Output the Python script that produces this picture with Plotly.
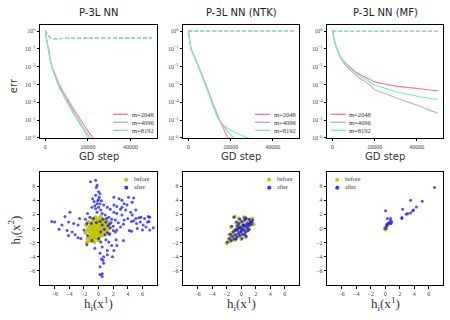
import plotly.graph_objects as go

panel_titles = ["P-3L NN", "P-3L NN (NTK)", "P-3L NN (MF)"]
m_labels = ["m=2048", "m=4096", "m=8192"]
m_colors = ["#ff72b6", "#b8b8b8", "#72f2b8"]

# --- top row: training error (solid) and test error (dashed) vs GD step
std_steps = [0, 500, 1000, 1500, 2500, 3500, 5000, 6500, 9000, 11500, 14000, 17000, 20000, 23000, 26000]
std_err_2048 = [1.1, 0.4, 0.18, 0.1, 0.02, 8e-3, 2.8e-3, 1e-3, 2.9e-4, 9e-5, 2.9e-5, 8.5e-6, 2.5e-6, 8e-7, 2.5e-7]
std_err_4096 = [1.1, 0.38, 0.16, 0.09, 0.018, 7e-3, 2.3e-3, 8e-4, 2.2e-4, 6.5e-5, 2e-5, 5.5e-6, 1.5e-6, 4.5e-7, 1.3e-7]
std_err_8192 = [1.1, 0.36, 0.15, 0.08, 0.016, 6e-3, 2e-3, 6.8e-4, 1.8e-4, 5.2e-5, 1.6e-5, 4.2e-6, 1.1e-6, 3e-7, 9e-8]
std_test_steps = [0, 1000, 2000, 3000, 4500, 6000, 8000, 12000, 20000, 30000, 40000, 50000]
std_test_2048 = [1.1, 0.66, 0.46, 0.39, 0.365, 0.37, 0.385, 0.395, 0.40, 0.40, 0.40, 0.40]
std_test_4096 = [1.1, 0.64, 0.45, 0.38, 0.36, 0.365, 0.38, 0.39, 0.395, 0.40, 0.40, 0.40]
std_test_8192 = [1.1, 0.63, 0.44, 0.375, 0.355, 0.36, 0.38, 0.39, 0.395, 0.40, 0.40, 0.40]

ntk_steps_2048 = [0, 1250, 2500, 4800, 8200, 11300, 14700, 18750, 22000]
ntk_err_2048 = [1.05, 0.1, 0.045, 0.01, 1e-3, 1e-4, 1e-5, 1e-6, 1.6e-7]
ntk_steps_4096 = [0, 1250, 2500, 4800, 8200, 11400, 14800, 18000, 21400, 24000]
ntk_err_4096 = [1.05, 0.1, 0.045, 0.0105, 1.05e-3, 1.05e-4, 1.05e-5, 2.8e-6, 1e-6, 5e-7]
ntk_steps_8192 = [0, 1250, 2500, 4800, 8200, 11000, 13600, 16000, 19000, 23000, 28400, 32000]
ntk_err_8192 = [1.05, 0.1, 0.042, 0.009, 8e-4, 1e-4, 1.6e-5, 6e-6, 3.2e-6, 1.8e-6, 1e-6, 7.5e-7]
ntk_test_steps = [0, 1000, 5000, 20000, 50000]
ntk_test = [1.1, 1.0, 1.0, 1.0, 1.0]

mf_steps = [0, 1000, 2200, 4000, 6000, 8200, 11000, 14000, 17000, 20000, 25000, 30000, 35000, 40000, 45000, 50000]
mf_err_2048 = [1.05, 0.28, 0.1, 0.035, 0.0166, 0.01, 5e-3, 3.2e-3, 2.1e-3, 1.4e-3, 1.05e-3, 8.1e-4, 6.9e-4, 6.0e-4, 5.1e-4, 4.5e-4]
mf_err_4096 = [1.05, 0.26, 0.09, 0.029, 0.0125, 6.8e-3, 3.3e-3, 1.85e-3, 1.1e-3, 5.2e-4, 3.1e-4, 1.8e-4, 1.1e-4, 7e-5, 4e-5, 2.4e-5]
mf_err_8192 = [1.05, 0.27, 0.095, 0.032, 0.015, 8.5e-3, 4.3e-3, 2.6e-3, 1.6e-3, 9.3e-4, 6.2e-4, 3.9e-4, 2.9e-4, 2.2e-4, 1.75e-4, 1.45e-4]
mf_test_steps = [0, 1000, 5000, 20000, 50000]
mf_test = [1.1, 0.97, 0.97, 0.97, 0.97]

err_ticks = [1, 1e-1, 1e-2, 1e-3, 1e-4, 1e-5, 1e-6]
err_ticktext = ["10<sup>0</sup>", "10<sup>−1</sup>", "10<sup>−2</sup>", "10<sup>−3</sup>",
                "10<sup>−4</sup>", "10<sup>−5</sup>", "10<sup>−6</sup>"]
step_ticks = [0, 20000, 40000]

# --- bottom row: h_i(x^1) vs h_i(x^2) before / after training
std_before = [(-1.6, -2.0), (-1.4, -1.7), (-1.2, -1.5), (-1.5, -1.4), (-1.0, -1.8), (-0.8, -1.4), (-1.1, -1.1),
              (-0.6, -1.2), (-0.3, -1.4), (0.1, -1.2), (0.4, -1.0), (-0.9, -0.8), (-0.5, -0.7), (-0.2, -0.9),
              (0.2, -0.7), (0.6, -0.6), (-1.3, -0.5), (-0.7, -0.4), (-0.4, -0.3), (0.0, -0.4), (0.4, -0.3),
              (0.8, -0.2), (1.1, -0.4), (-1.5, -0.1), (-1.0, -0.1), (-0.6, 0.0), (-0.2, 0.1), (0.2, 0.0),
              (0.6, 0.1), (1.0, 0.1), (1.4, 0.0), (-1.2, 0.3), (-0.8, 0.4), (-0.4, 0.4), (0.0, 0.4), (0.4, 0.5),
              (0.8, 0.4), (1.2, 0.5), (-1.0, 0.8), (-0.5, 0.8), (-0.1, 0.8), (0.3, 0.9), (0.7, 0.8), (1.0, 0.9),
              (-0.7, 1.1), (-0.3, 1.2), (0.1, 1.2), (0.5, 1.3), (0.9, 1.2), (-0.4, 1.6), (0.2, 1.5), (-1.7, 0.5),
              (-1.8, -0.6), (1.5, -0.7), (0.0, -1.7), (-0.6, -1.9), (-0.3, 0.0), (0.1, -0.2), (-0.5, -0.2),
              (0.3, 0.3), (-0.1, 0.5), (-0.8, 0.1), (0.5, -0.1), (-0.3, -0.6), (0.0, -0.9), (-0.7, -0.8),
              (-1.1, -1.3), (0.7, -0.9), (1.3, 0.9), (-1.4, 0.9), (0.3, 1.7), (-0.9, 1.4)]
std_after = [(-1.1, 6.6), (-0.4, 6.8), (-0.2, 6.1), (-0.3, 5.8), (0.0, 5.2), (0.2, 4.9), (-0.4, 4.7), (-0.8, 4.2),
             (0.0, 4.1), (-0.6, 3.8), (-0.2, 3.5), (0.2, 3.5), (0.7, 3.3), (-0.9, 3.0), (-0.4, 2.8), (1.2, 3.0),
             (1.6, 2.7), (0.3, 2.6), (-0.2, 2.3), (0.5, 2.1), (0.9, 1.9), (1.4, 1.6), (2.1, 2.3), (2.5, 2.1),
             (-1.5, 2.1), (-1.2, 1.6), (-0.7, 1.4), (0.1, 4.4), (-0.1, 3.9), (0.4, 3.9), (-0.5, 3.2), (0.0, 3.0),
             (2.1, 4.4), (2.8, 4.2), (3.2, 4.0), (3.5, 3.5), (4.1, 4.4), (4.8, 4.3), (4.6, 3.7), (3.9, 3.3),
             (3.2, 3.0), (3.7, 2.6), (4.4, 2.3), (5.1, 2.6), (2.1, 3.3), (2.5, 3.1), (3.0, 2.7), (4.6, 1.9),
             (3.2, 1.9), (5.1, 1.4), (5.8, 1.6), (6.3, 1.4), (2.3, 1.2), (1.8, 1.3), (2.7, 0.8), (6.8, 1.7),
             (7.0, 1.6), (4.8, 1.1), (-6.4, 1.0), (-6.0, 0.9), (-4.6, 1.7), (-3.9, 2.3), (-4.1, 0.9), (-3.4, 0.7),
             (-2.8, 0.5), (-5.0, 0.5), (-4.3, -0.3), (-3.6, -0.5), (-3.2, -0.9), (-2.4, -1.4), (-1.5, -1.0),
             (-2.0, -0.2), (-1.6, 0.7), (-2.6, 1.4), (-4.1, -1.0), (-2.8, -1.3), (-1.0, 0.7), (-1.8, 1.3),
             (-5.4, -0.1), (3.5, 1.2), (4.0, 1.4), (4.5, 1.0), (5.2, 0.7), (5.7, 0.9), (6.1, 0.5), (6.7, 0.9),
             (6.5, 0.2), (7.0, -0.2), (6.0, -0.2), (5.3, 0.0), (4.5, -0.4), (4.2, -0.3), (3.0, 0.2), (2.5, -0.2),
             (2.3, -0.5), (3.4, 0.6), (7.5, 0.1), (6.9, 1.0), (5.5, 1.5), (0.0, -1.4), (0.3, -1.9), (1.0, -1.6),
             (1.4, -1.9), (0.5, -2.6), (1.2, -3.1), (2.1, -3.1), (1.8, -2.4), (-0.5, -2.8), (0.2, -3.5),
             (0.7, -4.0), (2.4, -1.6), (1.9, -4.0), (0.4, -4.3), (0.6, -4.5), (0.7, -4.9), (0.2, -5.4),
             (0.5, -6.4), (0.2, -6.5), (0.5, -6.8), (1.2, -3.7), (2.5, -2.4), (3.4, -1.7), (1.5, -0.8),
             (-0.9, -1.7), (-1.6, -2.3), (0.5, 0.5), (1.0, 0.9), (1.3, 0.4), (0.8, -0.1), (1.6, 0.1), (2.0, 0.3),
             (1.2, -0.6), (0.2, 1.0), (-0.3, 0.8), (0.6, 1.3), (1.7, 0.8), (2.0, -0.3), (0.9, -0.9), (1.5, 0.6),
             (0.3, -0.5), (1.1, 1.4)]

ntk_before_x = [-2.0, -1.7, -1.5, -1.3, -1.6, -1.1, -0.9, -1.2, -0.7, -0.5, -0.8, -0.3, -0.6, -0.1, -0.4, 0.1, -0.2,
                0.3, 0.0, 0.5, 0.2, 0.7, 0.4, 0.9, 0.6, 1.1, 0.8, 1.3, 1.0, 1.5, 1.2, 1.7, -0.9, -0.3, 0.4, 1.0, -1.4,
                0.0, 0.6, -0.7, 0.3, -1.0, 1.4, -0.5, 0.9, -0.2, 0.5, -0.8, 0.1, 1.1]
ntk_before_y = [-2.1, -1.5, -1.8, -1.2, -0.9, -1.6, -1.0, -0.6, -1.3, -0.8, -0.2, -1.1, 0.3, -0.5, 0.6, -0.9, 0.1,
                -0.3, 0.9, -0.6, 0.4, 0.0, 1.1, 0.3, 1.5, 0.7, -0.4, 0.5, 1.2, 1.4, 0.9, 0.6, 1.7, 1.4, 1.6, -0.2, 0.2,
                -1.5, -1.2, 0.8, 0.2, -0.4, 1.0, -0.1, 0.8, -0.6, 0.5, -1.6, -0.2, 1.0]
ntk_after_x = [-1.9, -1.6, -1.4, -1.2, -1.5, -1.0, -0.8, -1.1, -0.6, -0.4, -0.7, -0.2, -0.5, 0.0, -0.3, 0.2, -0.1,
               0.4, 0.1, 0.6, 0.3, 0.8, 0.5, 1.0, 0.7, 1.2, 0.9, 1.4, 1.1, 1.6, 1.3, -1.0, -0.2, 0.5, 1.1, -1.3, 0.1,
               0.7, -0.6, 0.4, -0.9, 1.5, -0.4, 0.8, -0.1, 0.6, -0.7, 0.2, 1.0, 0.0, -0.3, 0.3, -0.5, 0.5]
ntk_after_y = [-1.9, -1.4, -1.7, -1.1, -0.8, -1.5, -0.9, -0.5, -1.2, -0.7, -0.1, -1.0, 0.4, -0.4, 0.7, -0.8, 0.2,
               -0.2, 1.0, -0.5, 0.5, 0.1, 1.2, 0.4, 1.4, 0.8, -0.3, 0.6, 1.3, 1.2, 1.0, 1.6, 1.3, 1.5, -0.1, 0.3,
               -1.4, -1.1, 0.9, 0.3, -0.3, 0.9, 0.0, 0.7, -0.5, 0.4, -1.5, -0.1, 0.6, 0.0, 0.2, 0.5, -0.3, -0.9]

mf_before = [(0.0, 0.0), (0.05, -0.1), (0.02, -0.15), (-0.02, 0.05), (0.05, 0.05)]
mf_after = [(6.8, 5.8), (5.1, 3.85), (4.3, 3.05), (3.5, 4.0), (3.8, 2.5), (3.9, 2.6), (3.5, 2.2), (3.1, 2.1),
            (2.9, 2.0), (2.4, 2.7), (2.3, 1.55), (2.3, 1.4), (0.05, 2.5), (0.3, 1.4), (0.75, 1.4), (0.7, 1.1),
            (0.9, 0.95), (0.6, 0.7), (0.45, 0.8), (0.3, 0.45), (0.15, 0.25), (0.05, 0.0), (0.2, 0.6), (0.8, 0.7)]

hi_ticks = [-6, -4, -2, 0, 2, 4, 6]

# subplot domains
col_dom = [[0.089, 0.349], [0.407, 0.665], [0.727, 0.985]]
top_dom = [0.569, 0.922]
bot_dom = [0.109, 0.463]

serif = "Liberation Serif, DejaVu Serif, serif"
sans = "DejaVu Sans, Liberation Sans, sans-serif"
tick_font = dict(family=serif, size=6, color="#444")

fig = go.Figure()

top_curves = [
    ([std_steps] * 3, [std_err_2048, std_err_4096, std_err_8192],
     [std_test_steps] * 3, [std_test_2048, std_test_4096, std_test_8192]),
    ([ntk_steps_2048, ntk_steps_4096, ntk_steps_8192], [ntk_err_2048, ntk_err_4096, ntk_err_8192],
     [ntk_test_steps] * 3, [ntk_test] * 3),
    ([mf_steps] * 3, [mf_err_2048, mf_err_4096, mf_err_8192],
     [mf_test_steps] * 3, [mf_test] * 3),
]

for i, (xs, ys, txs, tys) in enumerate(top_curves):
    ax = "" if i == 0 else str(i + 1)
    for k in range(3):
        fig.add_trace(go.Scatter(
            x=txs[k], y=tys[k], mode="lines", showlegend=False,
            line=dict(color=m_colors[k], width=1.1, dash="4px,2px", shape="spline", smoothing=0.6),
            xaxis="x" + ax, yaxis="y" + ax,
        ))
    for k in range(3):
        fig.add_trace(go.Scatter(
            x=xs[k], y=ys[k], mode="lines", showlegend=False,
            line=dict(color=m_colors[k], width=1.1, shape="spline", smoothing=0.6),
            xaxis="x" + ax, yaxis="y" + ax,
        ))

bottom_sets = [
    ([p[0] for p in std_before], [p[1] for p in std_before], [p[0] for p in std_after], [p[1] for p in std_after]),
    (ntk_before_x, ntk_before_y, ntk_after_x, ntk_after_y),
    ([p[0] for p in mf_before], [p[1] for p in mf_before], [p[0] for p in mf_after], [p[1] for p in mf_after]),
]
before_color = "#c4c400"
after_color = "rgba(20,20,255,0.75)"

for i, (bx, by, axx, ayy) in enumerate(bottom_sets):
    ax = str(i + 4)
    fig.add_trace(go.Scatter(x=bx, y=by, mode="markers", showlegend=False,
                             marker=dict(color=before_color, size=4, line=dict(width=0)),
                             xaxis="x" + ax, yaxis="y" + ax))
    fig.add_trace(go.Scatter(x=axx, y=ayy, mode="markers", showlegend=False,
                             marker=dict(color=after_color, size=3, line=dict(width=0)),
                             xaxis="x" + ax, yaxis="y" + ax))


def frame(**kw):
    d = dict(showline=True, mirror=True, linecolor="black", linewidth=1, ticks="outside",
             ticklen=2.5, tickwidth=0.8, tickcolor="black", showgrid=False, zeroline=False,
             tickfont=tick_font, automargin=False)
    d.update(kw)
    return d


layout = {}
for i in range(3):
    ax = "" if i == 0 else str(i + 1)
    layout["xaxis" + ax] = frame(domain=col_dom[i], anchor="y" + ax, range=[-2500, 52500],
                                 tickvals=step_ticks, tickformat="d")
    layout["yaxis" + ax] = frame(domain=top_dom, anchor="x" + ax, type="log", range=[-6, 0.34],
                                 tickvals=err_ticks, ticktext=err_ticktext)
    bx = str(i + 4)
    layout["xaxis" + bx] = frame(domain=col_dom[i], anchor="y" + bx, range=[-8, 8], tickvals=hi_ticks)
    layout["yaxis" + bx] = frame(domain=bot_dom, anchor="x" + bx, range=[-8, 8], tickvals=hi_ticks)

annotations = []


def label(text, x, y, size, family=sans, angle=0, xref="paper", yref="paper", xanchor="center", color="#333"):
    annotations.append(dict(text=text, x=x, y=y, xref=xref, yref=yref, showarrow=False,
                            xanchor=xanchor, yanchor="middle", textangle=angle,
                            font=dict(family=family, size=size, color=color)))


for i, title in enumerate(panel_titles):
    cx = (col_dom[i][0] + col_dom[i][1]) / 2
    label(title, cx, 0.962, 10, color="#222")
    label("GD step", cx, 0.51, 10)
    label("h<sub>i</sub>(x<sup>1</sup>)", cx, 0.05, 13, family=serif)

label("err", 0.029, 0.731, 10, angle=-90)
label("h<sub>i</sub>(x<sup>2</sup>)", 0.034, 0.281, 13, family=serif, angle=-90)

# legends drawn as text keys inside each panel
top_leg_x = [0.68, 0.68, 0.09]
leg_rows = [0.204, 0.133, 0.062]
for i in range(3):
    ax = "" if i == 0 else str(i + 1)
    for k in range(3):
        label("━━━", top_leg_x[i], leg_rows[k], 8, family="DejaVu Sans Mono",
              xref="x" + ax + " domain", yref="y" + ax + " domain", color=m_colors[k])
        label(m_labels[k], top_leg_x[i] + 0.085, leg_rows[k], 6.5, family=serif,
              xref="x" + ax + " domain", yref="y" + ax + " domain", xanchor="left")

bot_leg_x = [0.74, 0.74, 0.09]
bot_rows = [0.938, 0.867]
for i in range(3):
    ax = str(i + 4)
    for k, (lab, col) in enumerate([("before", before_color), ("after", "#3030ff")]):
        label("●", bot_leg_x[i], bot_rows[k], 5, xref="x" + ax + " domain", yref="y" + ax + " domain", color=col)
        label(lab, bot_leg_x[i] + 0.05, bot_rows[k], 6, family=serif,
              xref="x" + ax + " domain", yref="y" + ax + " domain", xanchor="left")

fig.update_layout(
    width=450, height=320,
    margin=dict(l=0, r=0, t=0, b=0),
    paper_bgcolor="white", plot_bgcolor="white",
    showlegend=False,
    annotations=annotations,
    **layout,
)

fig.write_html("out.html", config={"displayModeBar": False},
               post_script="document.body.style.margin='0px';")
